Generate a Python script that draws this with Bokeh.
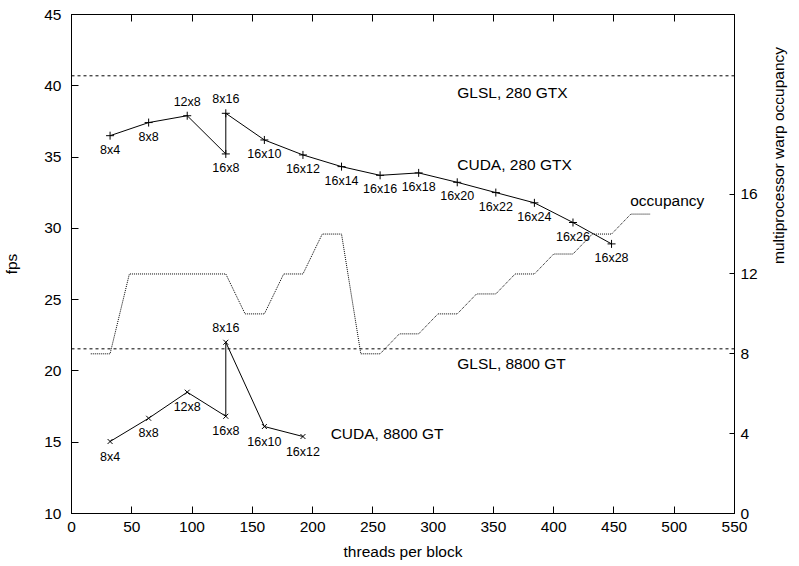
import math
from bokeh.plotting import figure
from bokeh.models import (Range1d, LinearAxis, FixedTicker, Span, Label, ColumnDataSource,
                          CustomLabelingPolicy)
from bokeh.core.properties import value
from bokeh.embed import file_html
from bokeh.resources import INLINE

# ---- data ----
threads_280 = [32, 64, 96, 128, 128, 160, 192, 224, 256, 288, 320, 352, 384, 416, 448]
fps_280 = [36.5, 37.42, 37.9, 35.22, 38.07, 36.2, 35.15, 34.33, 33.72, 33.89, 33.23, 32.51, 31.79, 30.41, 28.91]
labels_280 = ["8x4", "8x8", "12x8", "16x8", "8x16", "16x10", "16x12", "16x14", "16x16",
              "16x18", "16x20", "16x22", "16x24", "16x26", "16x28"]

threads_8800 = [32, 64, 96, 128, 128, 160, 192]
fps_8800 = [15.05, 16.68, 18.51, 16.82, 22.01, 16.10, 15.40]
labels_8800 = ["8x4", "8x8", "12x8", "16x8", "8x16", "16x10", "16x12"]

occ_threads = [16, 32, 48, 64, 80, 96, 112, 128, 144, 160, 176, 192, 208, 224, 240,
               256, 272, 288, 304, 320, 336, 352, 368, 384, 400, 416, 432, 448, 464, 480]
occ_warps = [8, 8, 12, 12, 12, 12, 12, 12, 10, 10, 12, 12, 14, 14, 8,
             8, 9, 9, 10, 10, 11, 11, 12, 12, 13, 13, 14, 14, 15, 15]

glsl_280 = 40.7
glsl_8800 = 21.55

x_ticks = [0, 50, 100, 150, 200, 250, 300, 350, 400, 450, 500, 550]
y_ticks = [10, 15, 20, 25, 30, 35, 40, 45]
y2_ticks = [0, 4, 8, 12, 16]

FONT = "Liberation Sans"
BIG = "15.5px"
SMALL = "12.5px"

p = figure(width=799, height=566, x_range=Range1d(0, 550), y_range=Range1d(10, 45),
           output_backend="svg", toolbar_location=None,
           min_border_left=69, min_border_right=65, min_border_top=14, min_border_bottom=53,
           x_axis_label="threads per block", y_axis_label="fps")
p.extra_y_ranges = {"occ": Range1d(0, 25)}
p.xgrid.grid_line_color = None
p.ygrid.grid_line_color = None
p.outline_line_color = "black"
p.outline_line_width = 1
p.background_fill_color = "white"
p.border_fill_color = "white"

bottom = p.below[0]
left = p.left[0]
bottom.ticker = FixedTicker(ticks=x_ticks)
left.ticker = FixedTicker(ticks=y_ticks)

right = LinearAxis(y_range_name="occ", ticker=FixedTicker(ticks=y2_ticks),
                   axis_label="multiprocessor warp occupancy")
p.add_layout(right, "right")
top = LinearAxis(ticker=FixedTicker(ticks=x_ticks))
p.add_layout(top, "above")

for ax in [bottom, left, right, top]:
    ax.axis_line_color = "black"
    ax.major_tick_line_color = "black"
    ax.minor_tick_line_color = None
    ax.major_tick_out = 0
    ax.major_tick_in = 7
    ax.major_label_text_font = FONT
    ax.major_label_text_font_size = BIG
    ax.major_label_text_color = "black"
    ax.axis_label_text_font = FONT
    ax.axis_label_text_font_size = BIG
    ax.axis_label_text_font_style = "normal"
    ax.axis_label_text_color = "black"

left.major_label_standoff = 10
left.axis_label_standoff = 21
bottom.major_label_standoff = 8
bottom.axis_label_standoff = 8
right.major_tick_in = 5
right.major_label_standoff = 6
right.axis_label_standoff = 18
if "axis_label_orientation" in right.properties():
    right.axis_label_orientation = math.pi / 2
top.major_label_standoff = 0
top.major_label_policy = CustomLabelingPolicy(
    code="for (const i of [...indices]) { indices.unset(i) }; return indices")

# GLSL reference lines
for lvl in (glsl_280, glsl_8800):
    p.add_layout(Span(location=lvl, dimension="width", line_color="black",
                      line_width=1, line_dash="3 3"))

# occupancy
p.line(occ_threads, occ_warps, y_range_name="occ", line_color="black",
       line_width=1, line_dash="1 1")

# CUDA 280 GTX
above_280 = {"12x8", "8x16"}
src280 = ColumnDataSource(dict(x=threads_280, y=fps_280, t=labels_280,
                               off=[-14 if l in above_280 else 14 for l in labels_280]))
p.line("x", "y", source=src280, line_color="black", line_width=1)
p.scatter("x", "y", source=src280, marker="cross", size=8, line_color="black", line_width=1)
p.text("x", "y", text="t", source=src280, y_offset="off", text_align="center",
       text_baseline="middle", text_font=value(FONT), text_font_size=SMALL, text_color="black")

# CUDA 8800 GT
above_8800 = {"8x16"}
src88 = ColumnDataSource(dict(x=threads_8800, y=fps_8800, t=labels_8800,
                              off=[-14 if l in above_8800 else 15 for l in labels_8800]))
p.line("x", "y", source=src88, line_color="black", line_width=1)
p.scatter("x", "y", source=src88, marker="x", size=7, line_color="black", line_width=1)
p.text("x", "y", text="t", source=src88, y_offset="off", text_align="center",
       text_baseline="middle", text_font=value(FONT), text_font_size=SMALL, text_color="black")

# annotations
for tx, x, y in [("GLSL, 280 GTX", 320, 39.55), ("CUDA, 280 GTX", 320, 34.45),
                 ("GLSL, 8800 GT", 320, 20.5), ("CUDA, 8800 GT", 215, 15.6),
                 ("occupancy", 463.5, 31.95)]:
    p.add_layout(Label(x=x, y=y, text=tx, text_align="left", text_baseline="middle",
                       text_font=FONT, text_font_size=BIG, text_color="black"))

open("out.html", "w").write(file_html(p, INLINE))
